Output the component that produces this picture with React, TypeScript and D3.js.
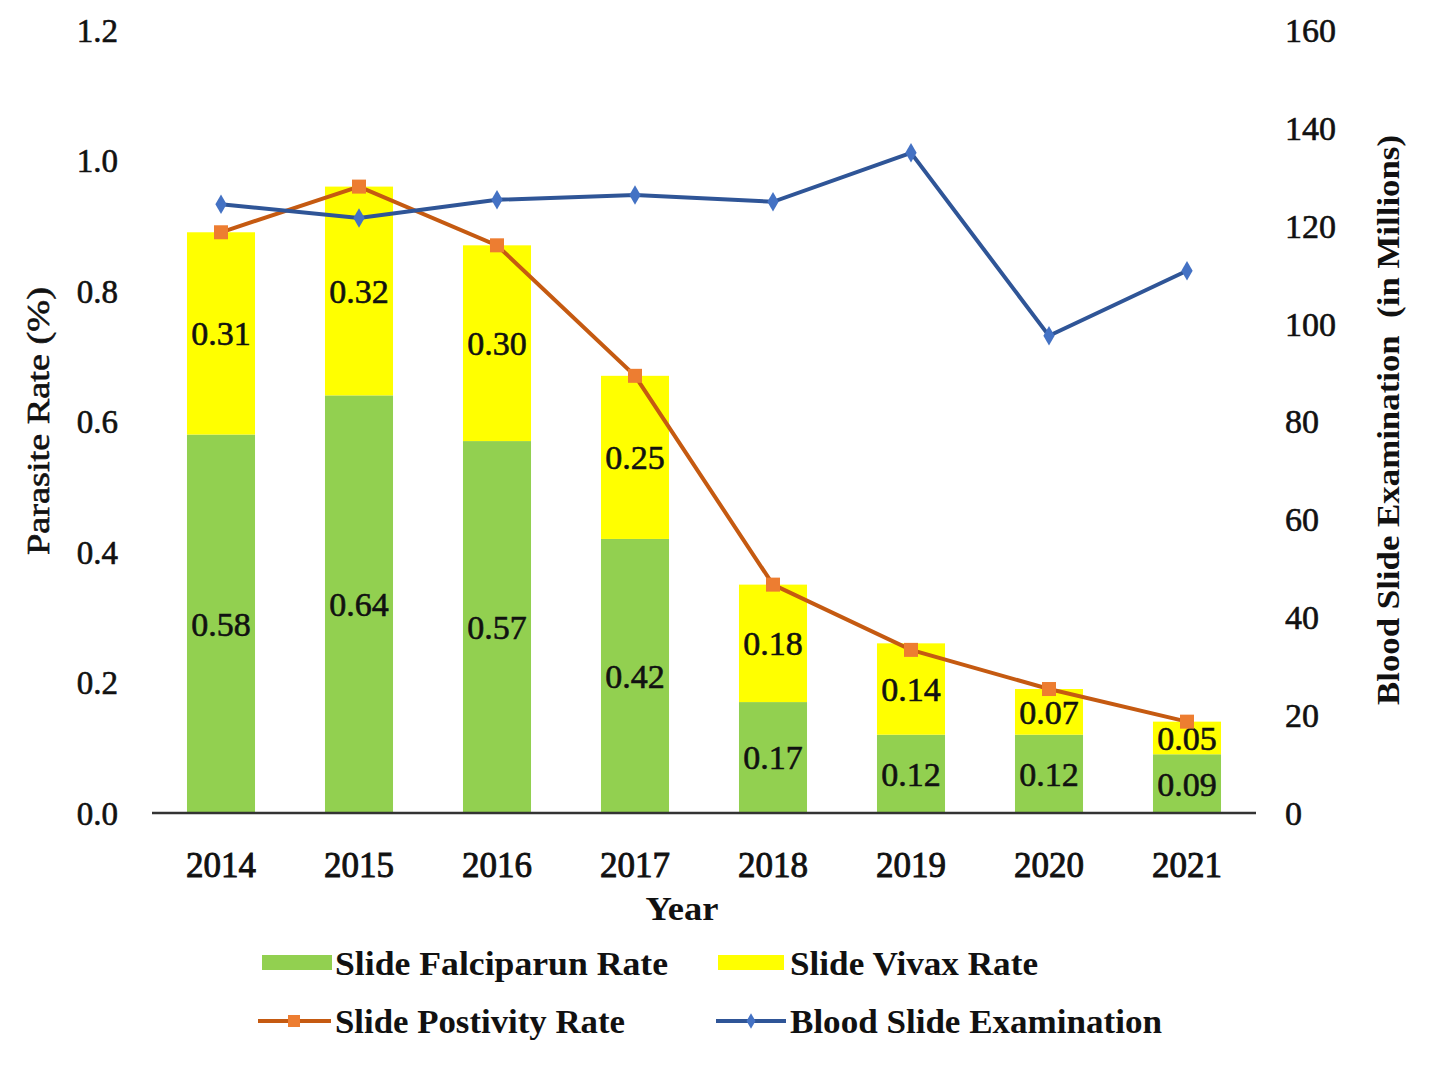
import React, { useRef, useEffect } from "react";
import * as d3 from "d3";

const years = ["2014", "2015", "2016", "2017", "2018", "2019", "2020", "2021"];
const falciparum = [0.58, 0.64, 0.57, 0.42, 0.17, 0.12, 0.12, 0.09];
const vivax = [0.31, 0.32, 0.30, 0.25, 0.18, 0.14, 0.07, 0.05];
const positivity = [0.89, 0.96, 0.87, 0.67, 0.35, 0.25, 0.19, 0.14];
const bloodSlides = [124.4, 121.6, 125.3, 126.3, 124.9, 134.9, 97.5, 110.8];
const leftTicks = [0, 0.2, 0.4, 0.6, 0.8, 1.0, 1.2];
const rightTicks = [0, 20, 40, 60, 80, 100, 120, 140, 160];

const FONT = "'Liberation Serif', 'Times New Roman', serif";
const GREEN = "#92d050";
const YELLOW = "#ffff00";
const ORANGE_LINE = "#c55a11";
const ORANGE_MARK = "#ed7d31";
const BLUE_LINE = "#2f5597";
const BLUE_MARK = "#4472c4";
const INK = "#111";

export default function App() {
  const ref = useRef<SVGSVGElement>(null);

  useEffect(() => {
    if (!ref.current) return;
    const svg = d3.select(ref.current);
    svg.selectAll("*").remove();

    const W = 1429, H = 1067;
    const margin = { left: 152, right: W - 1256, top: 30, bottom: H - 813 };

    const x = d3.scaleBand<string>()
      .domain(years)
      .range([margin.left, W - margin.right])
      .paddingInner(0.507)
      .paddingOuter(0.2535);
    const yL = d3.scaleLinear().domain([0, 1.2]).range([H - margin.bottom, margin.top]);
    const yR = d3.scaleLinear().domain([0, 160]).range([H - margin.bottom, margin.top]);
    const cx = (y: string) => (x(y) ?? 0) + x.bandwidth() / 2;

    // semi-bold serif text helper
    const semi = (sel: any, size: number) =>
      sel.style("font", `${size}px ${FONT}`)
        .attr("fill", INK)
        .attr("stroke", INK)
        .attr("stroke-width", 0.6);

    svg.append("rect").attr("width", W).attr("height", H).attr("fill", "#fff");

    // stacked bars
    const g = svg.append("g");
    years.forEach((yr, i) => {
      const f = falciparum[i], v = vivax[i];
      g.append("rect")
        .attr("x", x(yr)!)
        .attr("width", x.bandwidth())
        .attr("y", yL(f))
        .attr("height", yL(0) - yL(f))
        .attr("fill", GREEN);
      g.append("rect")
        .attr("x", x(yr)!)
        .attr("width", x.bandwidth())
        .attr("y", yL(f + v))
        .attr("height", yL(f) - yL(f + v))
        .attr("fill", YELLOW);
      semi(g.append("text")
        .attr("x", cx(yr))
        .attr("y", (yL(0) + yL(f)) / 2)
        .attr("dy", "0.35em")
        .attr("text-anchor", "middle"), 34)
        .text(f.toFixed(2));
      semi(g.append("text")
        .attr("x", cx(yr))
        .attr("y", (yL(f) + yL(f + v)) / 2)
        .attr("dy", "0.35em")
        .attr("text-anchor", "middle"), 34)
        .text(v.toFixed(2));
    });

    // x axis line
    svg.append("line")
      .attr("x1", margin.left).attr("x2", W - margin.right)
      .attr("y1", yL(0)).attr("y2", yL(0))
      .attr("stroke", "#333").attr("stroke-width", 2.5);

    // positivity line
    const lineL = d3.line<number>().x((_, i) => cx(years[i])).y(d => yL(d));
    svg.append("path").datum(positivity)
      .attr("d", lineL as any)
      .attr("fill", "none").attr("stroke", ORANGE_LINE).attr("stroke-width", 4);
    svg.append("g").selectAll("rect").data(positivity).join("rect")
      .attr("x", (_, i) => cx(years[i]) - 7)
      .attr("y", d => yL(d) - 7)
      .attr("width", 14).attr("height", 14)
      .attr("fill", ORANGE_MARK);

    // blood slide line
    const lineR = d3.line<number>().x((_, i) => cx(years[i])).y(d => yR(d));
    svg.append("path").datum(bloodSlides)
      .attr("d", lineR as any)
      .attr("fill", "none").attr("stroke", BLUE_LINE).attr("stroke-width", 4);
    svg.append("g").selectAll("path").data(bloodSlides).join("path")
      .attr("d", d3.symbol(d3.symbolDiamond, 110) as any)
      .attr("transform", (d, i) => `translate(${cx(years[i])},${yR(d)})`)
      .attr("fill", BLUE_MARK);

    // left ticks
    semi(svg.append("g").selectAll("text").data(leftTicks).join("text")
      .attr("x", 118).attr("y", d => yL(d)).attr("dy", "0.35em")
      .attr("text-anchor", "end"), 33)
      .text(d => d.toFixed(1));
    // right ticks
    semi(svg.append("g").selectAll("text").data(rightTicks).join("text")
      .attr("x", 1285).attr("y", d => yR(d)).attr("dy", "0.35em")
      .attr("text-anchor", "start"), 34)
      .text(d => String(d));
    // x tick labels
    semi(svg.append("g").selectAll("text").data(years).join("text")
      .attr("x", d => cx(d)).attr("y", 865).attr("dy", "0.35em")
      .attr("text-anchor", "middle"), 35)
      .attr("stroke-width", 0.9)
      .text(d => d);

    // axis titles
    svg.append("text")
      .attr("x", 682).attr("y", 908).attr("dy", "0.35em")
      .attr("text-anchor", "middle")
      .attr("textLength", 73).attr("lengthAdjust", "spacingAndGlyphs")
      .style("font", `bold 33px ${FONT}`).attr("fill", INK)
      .text("Year");
    semi(svg.append("text")
      .attr("transform", `translate(38,421) rotate(-90)`)
      .attr("dy", "0.35em")
      .attr("text-anchor", "middle")
      .attr("textLength", 268).attr("lengthAdjust", "spacingAndGlyphs"), 32)
      .text("Parasite Rate (%)");
    svg.append("text")
      .attr("transform", `translate(1388,420) rotate(-90)`)
      .attr("dy", "0.35em")
      .attr("text-anchor", "middle")
      .attr("textLength", 570).attr("lengthAdjust", "spacingAndGlyphs")
      .style("font", `bold 32px ${FONT}`).attr("fill", INK)
      .attr("xml:space", "preserve")
      .text("Blood Slide Examination  (in Millions)");

    // legend
    const leg = svg.append("g");
    const legText = (tx: number, ty: number, label: string, len: number) =>
      leg.append("text")
        .attr("x", tx).attr("y", ty).attr("dy", "0.35em")
        .attr("textLength", len).attr("lengthAdjust", "spacingAndGlyphs")
        .style("font", `bold 33px ${FONT}`).attr("fill", INK)
        .text(label);
    leg.append("rect").attr("x", 262).attr("y", 955).attr("width", 70).attr("height", 15).attr("fill", GREEN);
    legText(335, 963, "Slide Falciparun Rate", 333);
    leg.append("rect").attr("x", 718).attr("y", 955).attr("width", 66).attr("height", 15).attr("fill", YELLOW);
    legText(790, 963, "Slide Vivax Rate", 248);
    leg.append("line").attr("x1", 258).attr("x2", 331).attr("y1", 1021).attr("y2", 1021)
      .attr("stroke", ORANGE_LINE).attr("stroke-width", 4);
    leg.append("rect").attr("x", 288).attr("y", 1015).attr("width", 12).attr("height", 12).attr("fill", ORANGE_MARK);
    legText(335, 1021, "Slide Postivity Rate", 290);
    leg.append("line").attr("x1", 716).attr("x2", 786).attr("y1", 1021).attr("y2", 1021)
      .attr("stroke", BLUE_LINE).attr("stroke-width", 4);
    leg.append("path").attr("d", d3.symbol(d3.symbolDiamond, 70) as any)
      .attr("transform", "translate(751,1021)").attr("fill", BLUE_MARK);
    legText(790, 1021, "Blood Slide Examination", 372);
  }, []);

  return (
    <svg
      ref={ref}
      width={1429}
      height={1067}
      style={{ position: "absolute", left: 0, top: 0 }}
    />
  );
}
